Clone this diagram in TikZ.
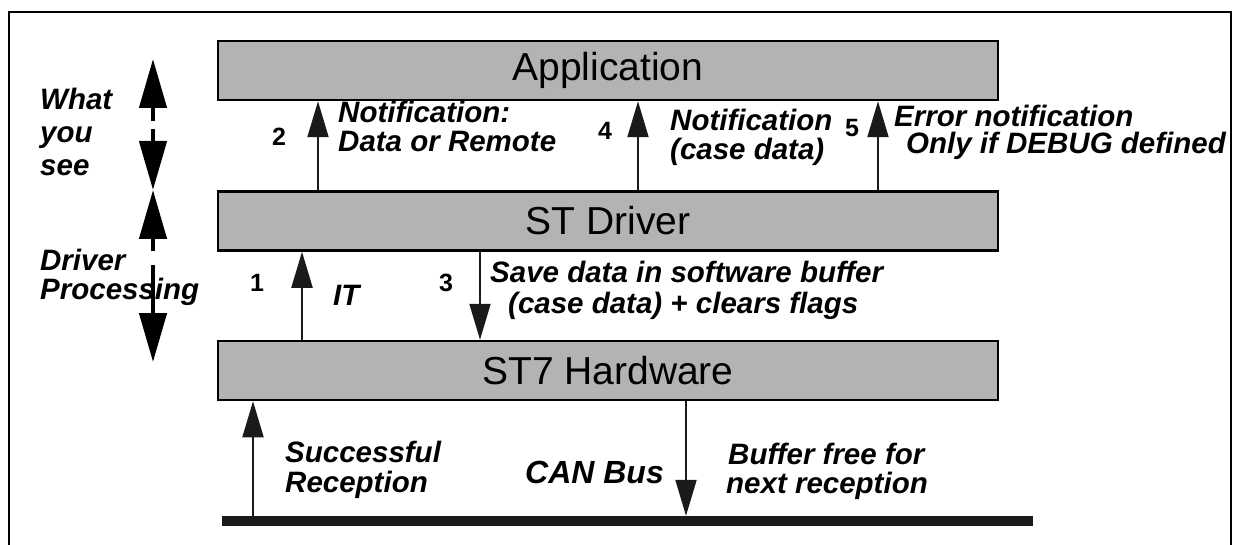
\documentclass[tikz,border=0pt]{standalone}
\usepackage{fontspec}
\setmainfont{Liberation Sans}
\usetikzlibrary{arrows.meta}
\definecolor{boxgray}{HTML}{B3B3B3}
\definecolor{ink}{HTML}{1A1A1A}
\begin{document}
\begin{tikzpicture}[x=1pt,y=-1pt,
  layer/.style={draw=black, line width=2.5pt, fill=boxgray, minimum width=780pt, minimum height=59pt, inner sep=0pt, font=\fontsize{39}{40}\selectfont},
  arr/.style={draw=ink, line width=2pt, -{Triangle[length=36pt,width=21pt]}},
  lbl/.style={anchor=base west, inner sep=0pt, font=\fontsize{29.5}{30}\selectfont\bfseries\itshape},
  num/.style={inner sep=0pt, font=\fontsize{25}{25}\selectfont\bfseries},
  bigarrow/.style={line width=4.5pt, {Triangle[length=49pt,width=27pt]}-{Triangle[length=49pt,width=27pt]}}
]
\useasboundingbox (0,0) rectangle (1236,545);
% frame
\draw[line width=2.5pt] (9,545) -- (9,12) -- (1231,12) -- (1231,545);

% layers
\node[layer] (app) at (608,70.5) {Application};
\node[layer] (drv) at (608,221) {ST Driver};
\node[layer] (hw) at (608,370.5) {ST7 Hardware};
\node[fill=ink, inner sep=0pt, minimum width=811pt, minimum height=10pt] (bus) at (627.5,521) {};

% x positions of connectors
\coordinate (c1) at (302,0);
\coordinate (c2) at (318,0);
\coordinate (c3) at (480,0);
\coordinate (c4) at (638,0);
\coordinate (c5) at (878,0);
\coordinate (cs) at (253,0);
\coordinate (cc) at (686,0);

\draw[arr] (c2 |- drv.north) -- (c2 |- app.south);
\draw[arr] (c4 |- drv.north) -- (c4 |- app.south);
\draw[arr] (c5 |- drv.north) -- (c5 |- app.south);
\draw[arr] (c1 |- hw.north) -- (c1 |- drv.south);
\draw[arr] (c3 |- drv.south) -- (c3 |- hw.north);
\draw[arr] (cs |- bus.north) -- (cs |- hw.south);
\draw[arr] (cc |- hw.south) -- (cc |- bus.north);

% left double arrows
\draw[bigarrow, dash pattern=on 14pt off 8pt on 80pt] (153,59) -- (153,190);
\draw[bigarrow, dash pattern=on 13pt off 14pt on 80pt] (153,190) -- (153,362);

% left labels
\node[lbl] (w1) at (40,110) {What};
\node[lbl] (w2) at (40,143) {you};
\node[lbl] (w3) at (40,176) {see};
\node[lbl] (d1) at (40,271) {Driver};
\node[lbl] (d2) at (40,299) {Processing};

% step numbers
\node[num] (n1) at (257,283) {1};
\node[num] (n2) at (279,137) {2};
\node[num] (n3) at (446,283) {3};
\node[num] (n4) at (605,131) {4};
\node[num] (n5) at (852,128) {5};

% connector labels
\node[lbl] (l2a) at (338,123) {Notification:};
\node[lbl] (l2b) at (338,152) {Data or Remote};
\node[lbl] (l4a) at (670,131) {Notification};
\node[lbl] (l4b) at (670,160) {(case data)};
\node[lbl] (l5a) at (894,127) {Error notification};
\node[lbl] (l5b) at (906,154) {Only if DEBUG defined};
\node[lbl] (lit) at (333,305) {IT};
\node[lbl] (l3a) at (490,282) {Save data in software buffer};
\node[lbl] (l3b) at (508,313) {(case data) + clears flags};
\node[lbl] (lsa) at (285,462) {Successful};
\node[lbl] (lsb) at (285,492) {Reception};
\node[lbl, font=\fontsize{32}{34}\selectfont\bfseries\itshape] (can) at (525,483) {CAN Bus};
\node[lbl] (lba) at (728,464) {Buffer free for};
\node[lbl] (lbb) at (726,493) {next reception};
\end{tikzpicture}
\end{document}
